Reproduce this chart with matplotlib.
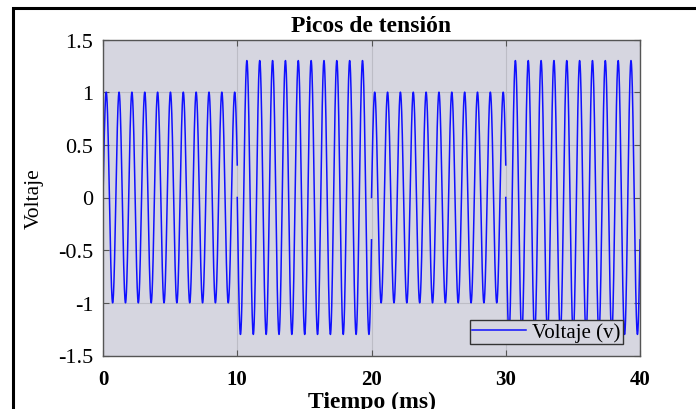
import numpy as np
import matplotlib.pyplot as plt
from matplotlib.patches import Rectangle

# segments of the signal (time in ms)
seg_start = [0, 10, 20, 30]
seg_end = [10, 20, 30, 40]
seg_amp = [1.0, 1.3, 1.0, 1.3]
seg_phase = [0.0, np.pi, 0.0, np.pi]   # up / down at the start of each block
freq_khz = 1.045

x_ticks = [0, 10, 20, 30, 40]
y_ticks = [-1.5, -1, -0.5, 0, 0.5, 1, 1.5]
y_tick_labels = ["-1.5", "-1", "-0.5", "0", "0.5", "1", "1.5"]

BG = "#d6d6e0"
GRID = "#bdbdc6"
FRAME = "#555555"

plt.rcParams['font.family'] = ['Liberation Serif', 'DejaVu Serif']

fig = plt.figure(figsize=(6.96, 4.10), dpi=100, facecolor="white")
ax = fig.add_axes([103 / 696, 1 - 356.5 / 410, 537 / 696, 316 / 410])
ax.set_facecolor(BG)

tt, yy = [], []
for t0, t1, a, ph in zip(seg_start, seg_end, seg_amp, seg_phase):
    t = np.linspace(t0, t1, 1500)
    tt.append(t)
    yy.append(a * np.sin(2 * np.pi * freq_khz * (t - t0) + ph))
    tt.append([np.nan])
    yy.append([np.nan])
t_all = np.concatenate(tt)
y_all = np.concatenate(yy)

ax.plot(t_all, y_all, color="#1010ff", linewidth=1.1, label="Voltaje (v)")

ax.set_xlim(0, 40)
ax.set_ylim(-1.5, 1.5)
ax.set_xticks(x_ticks)
ax.set_yticks(y_ticks)
ax.set_yticklabels(y_tick_labels)
ax.grid(True, color=GRID, linewidth=0.8)
ax.set_axisbelow(True)
for s in ax.spines.values():
    s.set_color(FRAME)
    s.set_linewidth(1.0)
ax.tick_params(direction="in", length=4, width=0.8, color=FRAME,
               top=True, right=True)
ax.tick_params(axis="y", labelsize=16, pad=7)
ax.tick_params(axis="x", labelsize=15, pad=10)
for lab in ax.get_xticklabels():
    lab.set_fontweight("bold")

ax.set_title("Picos de tensión", fontsize=17, fontweight="bold", pad=6)
ax.set_xlabel("Tiempo (ms)", fontsize=17, fontweight="bold", labelpad=1)
ax.set_ylabel("Voltaje", fontsize=15.5, labelpad=10)

leg = ax.legend(loc="lower right", bbox_to_anchor=(0.968, 0.036),
                borderaxespad=0, fontsize=15, fancybox=False,
                handlelength=2.6, borderpad=0.1, handletextpad=0.3)
leg.get_frame().set_facecolor(BG)
leg.get_frame().set_edgecolor("#333333")
leg.get_frame().set_alpha(1)

# outer black frame around the figure
fig.patches.append(Rectangle((12.5 / 696, -0.1), 1.0, 1 - 8.5 / 410 + 0.1,
                             transform=fig.transFigure, fill=False,
                             edgecolor="black", linewidth=2.2))

fig.savefig("out.png", dpi=100)
